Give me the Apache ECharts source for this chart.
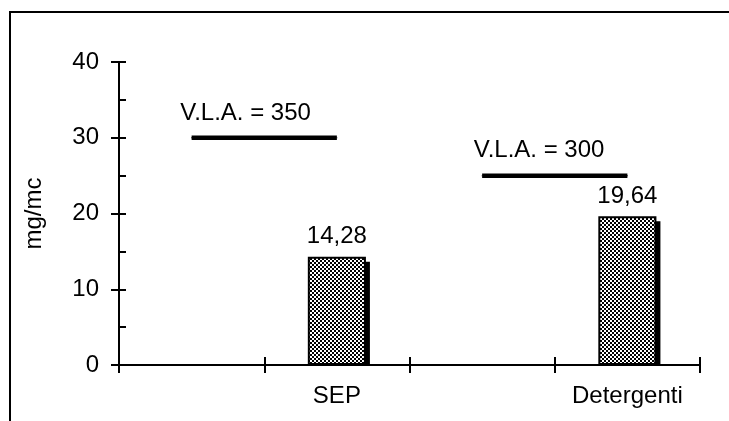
<!DOCTYPE html>
<html>
<head>
<meta charset="utf-8">
<script src="https://cdn.jsdelivr.net/npm/echarts@6/dist/echarts.min.js"></script>
<style>
  html, body { margin: 0; padding: 0; background: #ffffff; }
  #chart { width: 729px; height: 421px; }
</style>
</head>
<body>
<div id="chart"></div>
<script>
// Categories along the x axis (empty slots keep the spacing between groups)
const categories = ['', 'SEP', '', 'Detergenti'];
// Measured concentrations (mg/mc)
const concentrations = [null, 14.28, null, 19.64];
// Limit-value reference lines, drawn on the y scale
const vlaSep = [30, 30, null, null];
const vlaDetergenti = [null, null, 25, 25];
const vlaLabels = ['V.L.A. = 350', 'V.L.A. = 300'];
// Y axis range
const yMin = 0;
const yMax = 40;
const yInterval = 10;

const FONT = 'Liberation Sans, Arial, sans-serif';
const FS = 24;

// Fine checkered fill for the bars
function makeChecker() {
  const c = document.createElement('canvas');
  c.width = 4; c.height = 4;
  const ctx = c.getContext('2d');
  ctx.fillStyle = '#ffffff';
  ctx.fillRect(0, 0, 4, 4);
  ctx.fillStyle = '#000000';
  ctx.fillRect(0, 0, 2, 2);
  ctx.fillRect(2, 2, 2, 2);
  return c;
}

const shadowData = [];
concentrations.forEach((v, i) => { if (v != null) shadowData.push([i, v]); });

function vlaData(values, label, offset) {
  let first = true;
  return values.map(v => {
    if (v == null) return null;
    if (first) {
      first = false;
      return {
        value: v,
        label: {
          show: true,
          formatter: label,
          position: 'top',
          distance: 0,
          offset: offset,
          color: '#000',
          fontFamily: FONT,
          fontSize: FS
        }
      };
    }
    return v;
  });
}

const chart = echarts.init(document.getElementById('chart'), null, { renderer: 'canvas' });

const axisLineStyle = { color: '#000', width: 2 };

chart.setOption({
  backgroundColor: '#ffffff',
  animation: false,
  graphic: [{
    type: 'rect',
    shape: { x: 10, y: 12, width: 760, height: 450 },
    style: { fill: 'none', stroke: '#000', lineWidth: 2 },
    z: -1
  }],
  grid: { left: 119, right: 29, top: 62, bottom: 56 },
  xAxis: [{
    type: 'category',
    data: categories,
    boundaryGap: true,
    axisLine: { lineStyle: axisLineStyle },
    axisTick: { show: true, length: 8, inside: false, lineStyle: axisLineStyle },
    axisLabel: { color: '#000', fontFamily: FONT, fontSize: FS, margin: 19, interval: 0 },
    splitLine: { show: false }
  }, {
    type: 'category',
    data: categories,
    position: 'bottom',
    boundaryGap: true,
    axisLine: { lineStyle: axisLineStyle },
    axisTick: { show: true, length: 8, inside: true, lineStyle: axisLineStyle },
    axisLabel: { show: false },
    splitLine: { show: false }
  }],
  yAxis: [{
    type: 'value',
    min: yMin, max: yMax, interval: yInterval,
    name: 'mg/mc',
    nameLocation: 'middle',
    nameGap: 73,
    nameTextStyle: { color: '#000', fontFamily: FONT, fontSize: FS },
    axisLine: { show: true, lineStyle: axisLineStyle },
    axisTick: { show: true, length: 8, inside: false, lineStyle: axisLineStyle },
    axisLabel: { color: '#000', fontFamily: FONT, fontSize: FS, margin: 20 },
    splitLine: { show: false }
  }, {
    type: 'value',
    min: yMin, max: yMax, interval: yInterval,
    position: 'left',
    axisLine: { show: true, lineStyle: axisLineStyle },
    axisTick: { show: true, length: 7, inside: true, lineStyle: axisLineStyle },
    minorTick: { show: true, splitNumber: 2, length: 7, lineStyle: axisLineStyle },
    axisLabel: { show: false },
    splitLine: { show: false }
  }],
  series: [{
    // drop shadow at the right of each bar
    type: 'custom',
    xAxisIndex: 0, yAxisIndex: 0,
    z: 1,
    data: shadowData,
    renderItem: function (params, api) {
      const top = api.coord([api.value(0), api.value(1)]);
      const base = api.coord([api.value(0), 0]);
      const w = api.size([1, 0])[0] * 0.4;
      return {
        type: 'rect',
        shape: { x: top[0] - w / 2 + 4, y: top[1] + 5, width: w, height: base[1] - top[1] - 5 },
        style: { fill: '#000' }
      };
    }
  }, {
    type: 'bar',
    xAxisIndex: 0, yAxisIndex: 0,
    z: 2,
    barWidth: '40%',
    data: concentrations,
    itemStyle: {
      color: { image: makeChecker(), repeat: 'repeat' },
      borderColor: '#000',
      borderWidth: 2
    },
    label: {
      show: true,
      position: 'top',
      distance: 8,
      color: '#000',
      fontFamily: FONT,
      fontSize: FS,
      formatter: p => String(p.value).replace('.', ',')
    }
  }, {
    type: 'line',
    xAxisIndex: 0, yAxisIndex: 0,
    z: 3,
    data: vlaData(vlaSep, vlaLabels[0], [54, -12]),
    symbol: 'circle', symbolSize: 1,
    itemStyle: { color: '#000' },
    lineStyle: { color: '#000', width: 4.5 },
    connectNulls: false
  }, {
    type: 'line',
    xAxisIndex: 0, yAxisIndex: 0,
    z: 3,
    data: vlaData(vlaDetergenti, vlaLabels[1], [57, -13]),
    symbol: 'circle', symbolSize: 1,
    itemStyle: { color: '#000' },
    lineStyle: { color: '#000', width: 4.5 },
    connectNulls: false
  }]
});
</script>
</body>
</html>
